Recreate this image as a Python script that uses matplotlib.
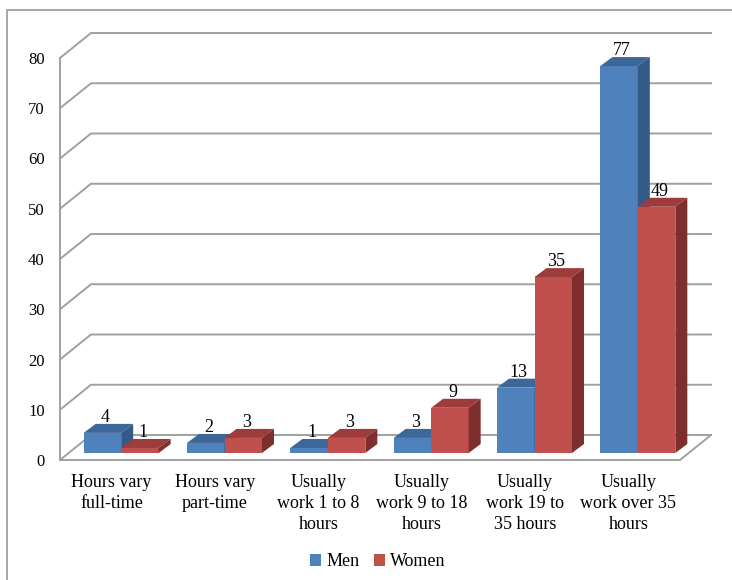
import matplotlib.pyplot as plt
from matplotlib.patches import Patch, Polygon, Rectangle

categories = [
    "Hours vary\nfull-time",
    "Hours vary\npart-time",
    "Usually\nwork 1 to 8\nhours",
    "Usually\nwork 9 to 18\nhours",
    "Usually\nwork 19 to\n35 hours",
    "Usually\nwork over 35\nhours",
]
men = [4, 2, 1, 3, 13, 77]
women = [1, 3, 3, 9, 35, 49]
y_ticks = [0, 10, 20, 30, 40, 50, 60, 70, 80]

plt.rcParams["font.family"] = ["Liberation Serif", "DejaVu Serif"]

W, H = 732, 580
fig = plt.figure(figsize=(W / 100, H / 100), dpi=100)
ax = fig.add_axes([60 / W, 120 / H, 620 / W, 402 / H])
ax.set_xlim(-0.5, 5.5)
ax.set_ylim(0, 80)
for s in ax.spines.values():
    s.set_visible(False)

# pixel -> data unit helpers
PX = 6 / 620
PY = 80 / 402

grid_c = "#a0a0a0"
wall_dx, wall_dy = 31 * PX, 25 * PY

# back wall gridlines and left-wall diagonals
for t in y_ticks:
    ax.plot([-0.5, -0.5 + wall_dx, 5.5 + wall_dx], [t, t + wall_dy, t + wall_dy],
            color=grid_c, lw=1.4, clip_on=False, zorder=1)
# left front edge and floor edge
ax.plot([-0.5, -0.5], [0, 80], color=grid_c, lw=1.4, clip_on=False, zorder=1)
ax.plot([-0.5, 5.5, 5.5 + wall_dx], [0, 0, wall_dy], color=grid_c, lw=1.4,
        clip_on=False, zorder=1)

bar_w = 37.5 * PX
shift_x, lift = 9.5 * PX, 7 * PY
depth_x, depth_y = 12 * PX, 9 * PY

series = [
    (men, "#4f81bd", "#3d6699", "#345a88", -1),
    (women, "#c0504d", "#9d3c3a", "#7e2f2d", 0),
]

for i in range(len(categories)):
    for vals, front, top, side, pos in series:
        v = vals[i]
        x0 = i + shift_x + pos * bar_w
        x1 = x0 + bar_w
        y0, y1 = lift, lift + v
        ax.bar(x0, v, width=bar_w, bottom=y0, align="edge", color=front,
               lw=0, clip_on=False, zorder=3)
        ax.add_patch(Polygon([(x0, y1), (x1, y1), (x1 + depth_x, y1 + depth_y),
                              (x0 + depth_x, y1 + depth_y)],
                             closed=True, fc=top, lw=0, clip_on=False, zorder=3))
        ax.add_patch(Polygon([(x1, y0), (x1 + depth_x, y0 + depth_y),
                              (x1 + depth_x, y1 + depth_y), (x1, y1)],
                             closed=True, fc=side, lw=0, clip_on=False, zorder=3))
        ax.text((x0 + x1) / 2 + 3 * PX, y1 + depth_y + 2 * PY, str(v),
                ha="center", va="baseline", fontsize=13, zorder=4)

ax.set_yticks(y_ticks)
ax.set_yticklabels([str(t) for t in y_ticks], fontsize=12)
ax.set_xticks(range(len(categories)))
ax.set_xticklabels(categories, fontsize=13, linespacing=1.3)
ax.tick_params(axis="y", length=0, pad=11)
ax.tick_params(axis="x", length=0, pad=10)

handles = [Patch(facecolor="#4f81bd", label="Men"),
           Patch(facecolor="#c0504d", label="Women")]
fig.legend(handles=handles, loc="center", bbox_to_anchor=(378 / W, 1 - 562 / H),
           ncol=2, frameon=False, handlelength=0.6, handleheight=0.6,
           handletextpad=0.3, columnspacing=0.8, fontsize=13)

# chart area border
fig.add_artist(Rectangle((7 / W, -0.1), 1.2, 1.1 - 10 / H, transform=fig.transFigure,
                         fill=False, ec="#a0a0a0", lw=1.3))

fig.savefig("out.png", dpi=100)
